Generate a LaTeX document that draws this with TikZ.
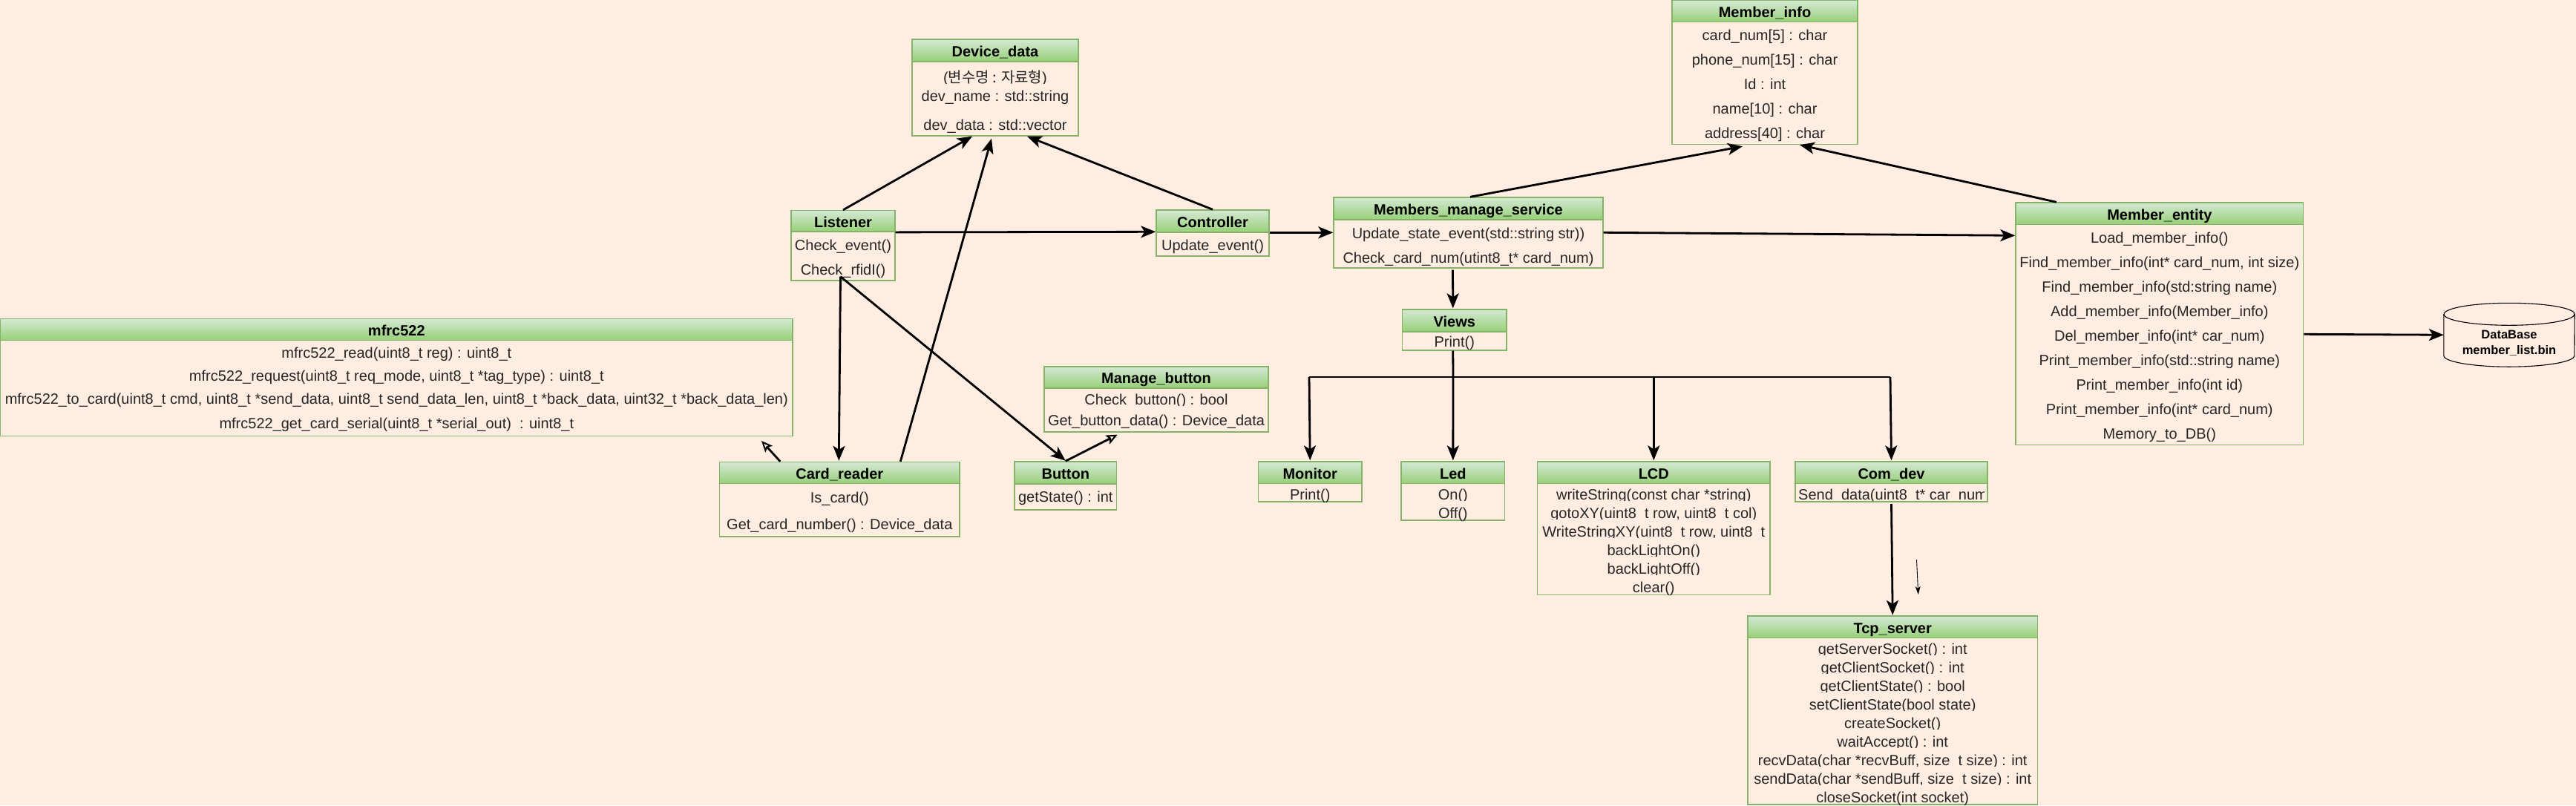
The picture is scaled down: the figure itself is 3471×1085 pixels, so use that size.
\documentclass[tikz,border=0pt]{standalone}
\usepackage{fontspec}
\usetikzlibrary{arrows.meta}
\setmainfont{Liberation Sans}
\newfontfamily\cjk{Noto Sans CJK KR}
\catcode`\_=12
\definecolor{bgc}{HTML}{FFEDE1}
\definecolor{edgec}{HTML}{82B366}
\definecolor{headtop}{HTML}{D5E8D4}
\definecolor{headbot}{HTML}{97D077}
\def\rowh{23.5}
\tikzset{
  umlbody/.style={draw=edgec,line width=1.4pt,fill=bgc,inner sep=0pt,anchor=center},
  umlhead/.style={draw=edgec,line width=1.4pt,top color=headtop,bottom color=headbot,inner sep=0pt},
  umltitle/.style={font=\fontsize{20}{24}\selectfont\bfseries,inner sep=0pt,text=black,anchor=base},
  umlrow/.style={font=\fontsize{20}{24}\selectfont,inner xsep=0pt,inner ysep=0pt,fill=bgc,text height=\rowh pt,text depth=1.5pt,anchor=base,text=black!85},
  conn/.style={line width=2.8pt,-{Stealth[length=20pt,width=16pt,inset=5pt]}},
  connthin/.style={line width=0.9pt,-{Stealth[length=11pt,width=7pt,inset=3pt]}},
  connopen/.style={line width=2.8pt,-{Stealth[open,fill=bgc,length=15pt,width=13pt,inset=3pt,line width=2pt]}},
  busline/.style={line width=2.8pt},
  dbline/.style={draw=black,line width=1.1pt,fill=bgc},
}
\newcommand{\umlbox}[8]{%
  \node[umlbody,minimum width={(#4-#2)*1pt},minimum height={(#5-#3)*1pt}] (#1) at ({(#2+#4)/2},{(#3+#5)/2}) {};
  \foreach \yy/\txt [count=\ri] in {#8}{
    \node[umlrow,minimum width={(#4-#2-2)*1pt}] (#1-r\ri) at ({(#2+#4)/2},{\yy+7}) {\txt};
  }
  \node[umlhead,minimum width={(#4-#2)*1pt},minimum height={(#6-#3)*1pt}] (#1-h) at ({(#2+#4)/2},{(#3+#6)/2}) {};
  \node[umltitle] (#1-t) at ([yshift=-8.4pt]#1-h.center) {#7};
}
\begin{document}
\begin{tikzpicture}[x=1pt,y=-1pt]
\path[use as bounding box,fill=bgc] (0,0) rectangle (3471,1085);

\umlbox{mfrc}{0.7}{429.5}{1068}{587.5}{458.7}{mfrc522}{475/{mfrc522_read(uint8_t reg) : uint8_t},506/{mfrc522_request(uint8_t req_mode, uint8_t *tag_type) : uint8_t},537.5/{mfrc522_to_card(uint8_t cmd, uint8_t *send_data, uint8_t send_data_len, uint8_t *back_data, uint32_t *back_data_len)},570.5/{mfrc522_get_card_serial(uint8_t *serial_out)\ \ : uint8_t}}
\umlbox{listener}{1066}{283.6}{1206}{378}{312}{Listener}{330/{Check_event()},363/{Check_rfidI()}}
\umlbox{card}{969.6}{622.5}{1293}{723}{651.7}{Card_reader}{670/{Is_card()},706/{Get_card_number() : Device_data}}
\umlbox{device}{1229}{53}{1453}{183}{83}{Device_data}{104/{({\cjk 변수명 : 자료형})},129/{dev_name : std::string},168/{dev_data : std::vector}}
\umlbox{controller}{1558}{283}{1710}{345}{313}{Controller}{330/{Update_event()}}
\umlbox{members}{1797}{266}{2160}{361}{296}{Members_manage_service}{314/{Update_state_event(std::string str))},347/{Check_card_num(utint8_t* card_num)}}
\umlbox{views}{1889.5}{417}{2030}{472}{447}{Views}{460/{Print()}}
\umlbox{minfo}{2253}{0.7}{2503}{194.5}{29.6}{Member_info}{47.5/{card_num[5] : char},80/{phone_num[15] : char},113/{Id : int},146/{name[10] : char},179/{address[40] : char}}
\umlbox{entity}{2716}{273}{3103.6}{599.5}{302.5}{Member_entity}{320/{Load_member_info()},353/{Find_member_info(int* card_num, int size)},386/{Find_member_info(std:string name)},419/{Add_member_info(Member_info)},452/{Del_member_info(int* car_num)},485/{Print_member_info(std::string name)},518/{Print_member_info(int id)},551/{Print_member_info(int* card_num)},584/{Memory_to_DB()}}
\def\rowh{26.5}
\umlbox{manage}{1407}{494}{1709}{582}{523}{Manage_button}{538/{Check_button() : bool},566/{Get_button_data() : Device_data}}
\def\rowh{23.5}
\umlbox{button}{1367}{622}{1504.5}{687}{652}{Button}{669/{getState() : int}}
\umlbox{monitor}{1695.4}{622}{1835}{676}{651.7}{Monitor}{666/{Print()}}
\umlbox{led}{1888}{622}{2027.6}{701}{651.7}{Led}{666/{On()},691/{Off()}}
\umlbox{lcd}{2071.6}{622}{2385}{801.4}{651.7}{LCD}{666/{writeString(const char *string)},691/{gotoXY(uint8_t row, uint8_t col)},716/{WriteStringXY(uint8_t row, uint8_t},741/{backLightOn()},766/{backLightOff()},791/{clear()}}
\umlbox{comdev}{2419}{622}{2678}{676}{651.7}{Com_dev}{}
\begin{scope}
  \clip (2421,653) rectangle (2673,674.5);
  \node[anchor=base west,font=\fontsize{20}{24}\selectfont,inner sep=0pt,text=black!85] (comdev-r1) at (2423,673) {Send_data(uint8_t* car_num)};
\end{scope}
\umlbox{tcp}{2355}{830}{2745.4}{1084}{859.6}{Tcp_server}{874/{getServerSocket() : int},899/{getClientSocket() : int},924/{getClientState() : bool},949/{setClientState(bool state)},974/{createSocket()},999/{waitAccept() : int},1024/{recvData(char *recvBuff, size_t size) : int},1049/{sendData(char *sendBuff, size_t size) : int},1074/{closeSocket(int socket)}}

\node[minimum width=176pt,minimum height=85.5pt,inner sep=0pt] (db) at (3381,451.25) {};
\draw[dbline] (db.north west) ++(0,15) -- ([yshift=15pt]db.south west) arc[start angle=180,end angle=0,x radius=88,y radius=15] -- ([yshift=-15pt]db.north east) arc[start angle=0,end angle=-180,x radius=88,y radius=15] -- cycle;
\draw[dbline,fill=none] ([yshift=-15pt]db.north west) arc[start angle=180,end angle=0,x radius=88,y radius=15];
\node[font=\fontsize{16.5}{21}\selectfont\bfseries,align=center,inner sep=0pt] (dbtext) at (3381,462.5) {DataBase\\member_list.bin};

\coordinate (freeA) at (2582.5,754);
\coordinate (freeB) at (2584.7,801);
\coordinate (mfrcEnd) at (1026,594);
\coordinate (busL) at (1764,508);
\coordinate (busM) at (1958,508);
\coordinate (busR) at (2547,508);

\draw[conn] (listener.north) -- ([xshift=-31pt]device.south);
\draw[conn] ([xshift=82pt]card.north) -- ([xshift=-5pt,yshift=-3pt]device.south);
\draw[conn] (controller.north) -- ([xshift=43pt]device.south);
\draw[conn] ([yshift=-30pt]listener.north east) -- ([yshift=-30pt]controller.north west);
\draw[conn] ([yshift=-31pt]controller.north east) -- ([yshift=-48pt]members.north west);
\draw[conn] ([xshift=2.5pt]members.north) -- ([xshift=-30pt,yshift=-2pt]minfo.south);
\draw[conn] ([xshift=-139pt]entity.north) -- ([xshift=47pt]minfo.south);
\draw[conn] ([yshift=-48pt]members.north east) -- ([yshift=-45pt]entity.north west);
\draw[conn] ([yshift=-178pt]entity.north east) -- (db.west);
\draw[conn] ([xshift=-21pt,yshift=-2pt]members.south) -- ([xshift=-2pt,yshift=1pt]views.north);
\draw[busline] ([xshift=-2pt]views.south) -- (busM);
\draw[busline] (busL) -- (busR);
\draw[conn] (busL) -- ([yshift=1pt]monitor.north);
\draw[conn] (busM) -- ([yshift=1pt]led.north);
\draw[conn] (lcd.north |- busM) -- ([yshift=1pt]lcd.north);
\draw[conn] (busR) -- ([yshift=1pt]comdev.north);
\draw[conn] ([yshift=-2.5pt]comdev.south) -- ([yshift=0.5pt]tcp.north);
\draw[connthin] (freeA) -- (freeB);
\draw[conn] ([xshift=-3.5pt,yshift=6pt]listener.south) -- ([xshift=-1pt,yshift=1pt]card.north);
\draw[conn] ([xshift=-3.5pt,yshift=6pt]listener.south) -- ([yshift=0.5pt]button.north);
\draw[connopen] (button.north) -- ([xshift=-204pt,yshift=-3pt]manage.south east);
\draw[connopen] ([xshift=-80pt]card.north) -- (mfrcEnd);
\end{tikzpicture}
\end{document}
